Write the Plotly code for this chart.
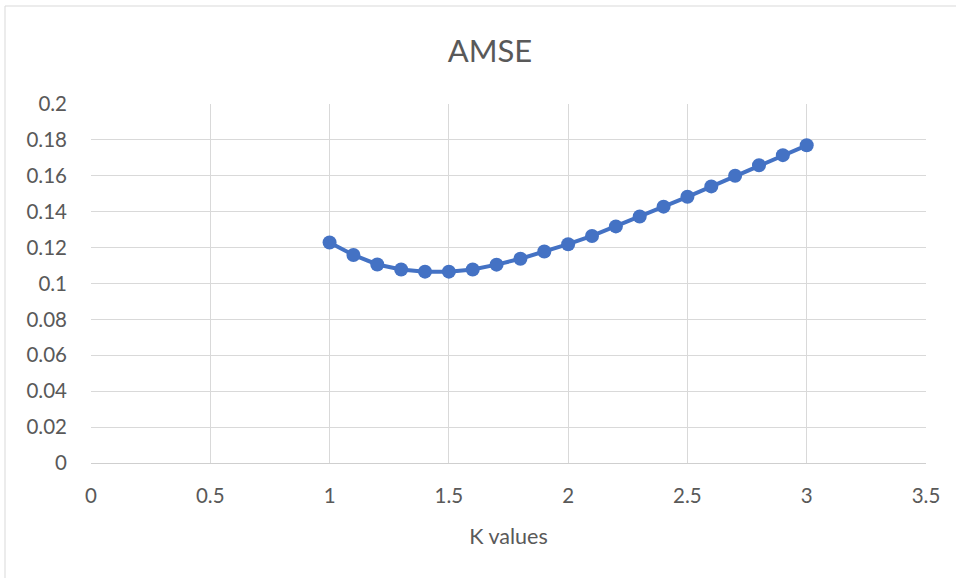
import plotly.graph_objects as go

# K values and the corresponding AMSE
k_values = [1.0, 1.1, 1.2, 1.3, 1.4, 1.5, 1.6, 1.7, 1.8, 1.9, 2.0,
            2.1, 2.2, 2.3, 2.4, 2.5, 2.6, 2.7, 2.8, 2.9, 3.0]
amse = [0.1228, 0.1159, 0.1106, 0.1078, 0.1066, 0.1066, 0.1078, 0.1105,
        0.1138, 0.1178, 0.1219, 0.1265, 0.1318, 0.1373, 0.1428, 0.1483,
        0.1541, 0.1600, 0.1659, 0.1715, 0.1770]

x_ticks = [0, 0.5, 1, 1.5, 2, 2.5, 3, 3.5]
x_tick_text = ["0", "0.5", "1", "1.5", "2", "2.5", "3", "3.5"]
y_ticks = [0, 0.02, 0.04, 0.06, 0.08, 0.1, 0.12, 0.14, 0.16, 0.18, 0.2]
y_tick_text = ["0", "0.02", "0.04", "0.06", "0.08", "0.1", "0.12", "0.14",
               "0.16", "0.18", "0.2"]

BLUE = "#4472C4"
TEXT = "#595959"
GRID = "#d9d9d9"
FONT = "Lato"

fig = go.Figure(
    go.Scatter(
        x=k_values,
        y=amse,
        mode="lines+markers",
        line=dict(color=BLUE, width=4),
        marker=dict(color=BLUE, size=14),
        showlegend=False,
    )
)

L, R, T, B = 91, 30, 104, 115
W, H = 956, 578
pw, ph = W - L - R, H - T - B

fig.update_layout(
    width=W,
    height=H,
    margin=dict(l=L, r=R, t=T, b=B),
    paper_bgcolor="white",
    plot_bgcolor="white",
    font=dict(family=FONT, color=TEXT, size=20),
    title=dict(
        text="AMSE",
        x=490 / W,
        xanchor="center",
        y=1 - 51 / H,
        yanchor="middle",
        font=dict(family=FONT, size=31, color=TEXT),
    ),
    xaxis=dict(
        range=[0, 3.5],
        tickvals=x_ticks,
        ticktext=x_tick_text,
        showgrid=True,
        gridcolor=GRID,
        gridwidth=1,
        zeroline=False,
        showline=True,
        linecolor="#cfcfcf",
        linewidth=1,
        ticks="",
        ticklabelstandoff=14,
        tickfont=dict(family=FONT, size=20.5, color=TEXT),
        title=dict(text="K values", standoff=23,
                   font=dict(family=FONT, size=21.5, color=TEXT)),
        fixedrange=True,
    ),
    yaxis=dict(
        range=[0, 0.2],
        tickvals=y_ticks,
        ticktext=y_tick_text,
        showgrid=True,
        gridcolor=GRID,
        gridwidth=1,
        zeroline=False,
        showline=False,
        ticks="",
        ticklabelstandoff=23,
        tickfont=dict(family=FONT, size=20.5, color=TEXT),
        fixedrange=True,
    ),
)

# chart-area border
fig.add_shape(
    type="rect",
    xref="paper", yref="paper",
    x0=(5 - L) / pw, x1=(W + 5 - L) / pw,
    y0=-(H + 5 - T - ph) / ph, y1=(H - 6 - B) / ph,
    line=dict(color=GRID, width=1),
    fillcolor="rgba(0,0,0,0)",
    layer="below",
)

fig.write_html("out.html")
